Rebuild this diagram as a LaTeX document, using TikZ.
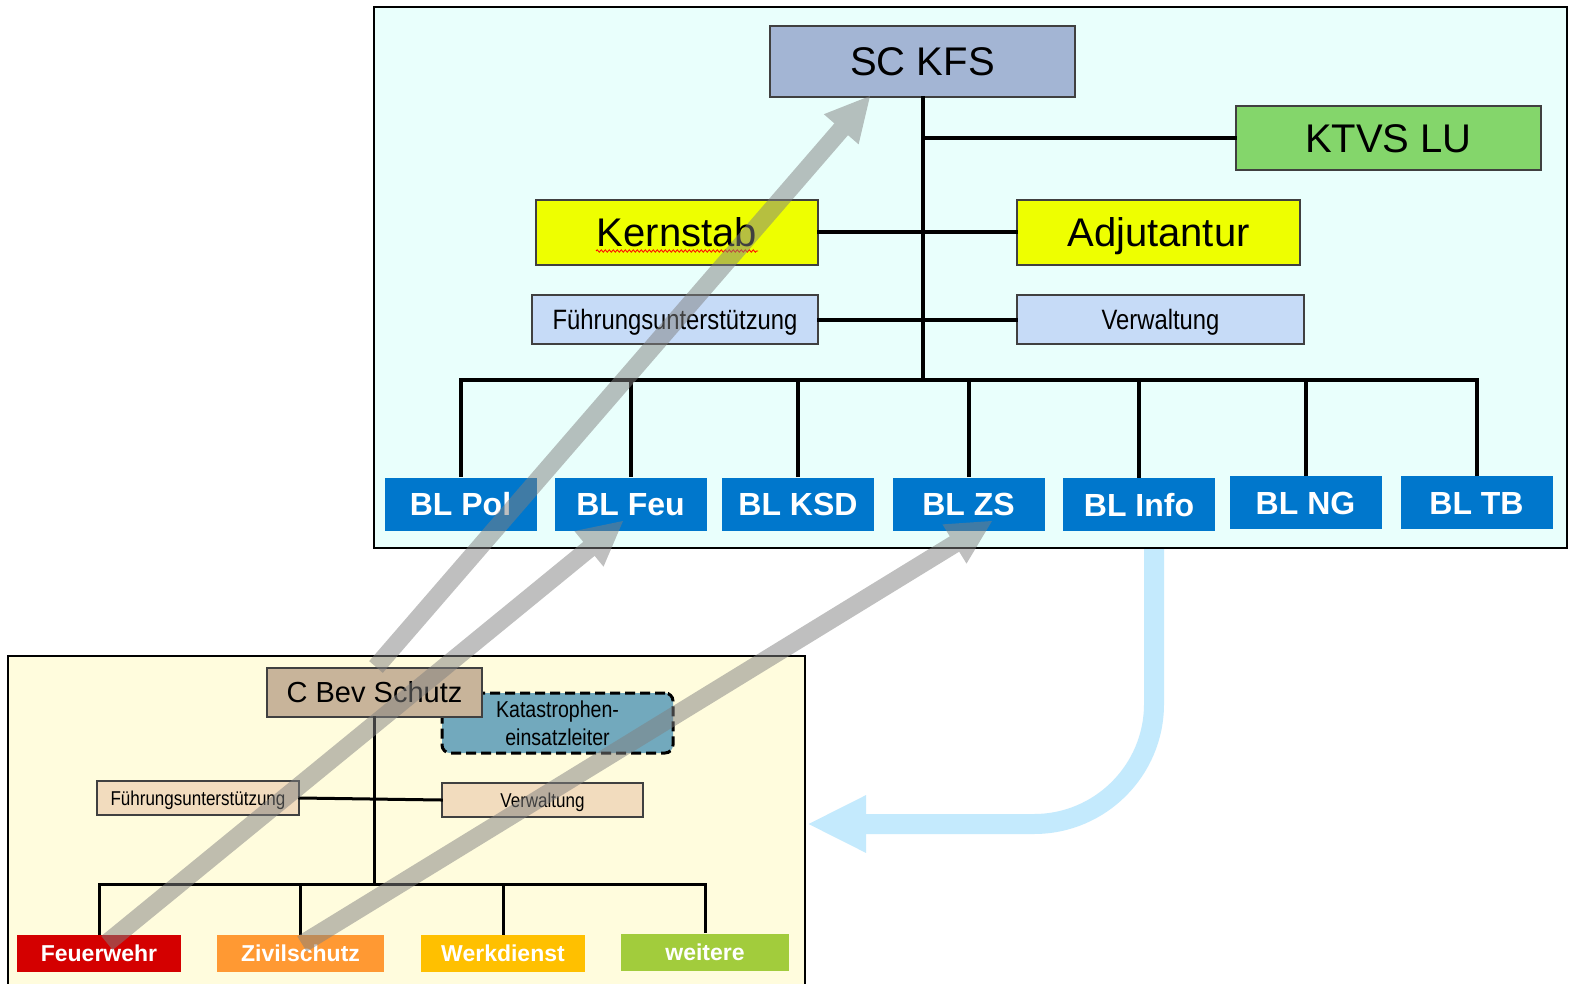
\documentclass[tikz,border=0pt]{standalone}
\usepackage{fontspec}
\setmainfont{Liberation Sans}
\newfontfamily\narrowfont[FakeStretch=0.85]{Liberation Sans}
\usetikzlibrary{calc,arrows.meta,decorations.pathmorphing}
\definecolor{toppanel}{HTML}{E9FFFC}
\definecolor{botpanel}{HTML}{FFFCDD}
\definecolor{sccol}{HTML}{A3B5D4}
\definecolor{ktvscol}{HTML}{84D66B}
\definecolor{yelcol}{HTML}{EEFF00}
\definecolor{ltblue}{HTML}{C6DBF7}
\definecolor{blbox}{HTML}{0077CC}
\definecolor{cbevcol}{HTML}{C8B49A}
\definecolor{katcol}{HTML}{72A9BD}
\definecolor{peach}{HTML}{F2DCBE}
\definecolor{feuercol}{HTML}{D40000}
\definecolor{zivcol}{HTML}{FF9933}
\definecolor{werkcol}{HTML}{FFC000}
\definecolor{weitcol}{HTML}{A2CC3C}
\definecolor{bluearrow}{HTML}{C4EAFD}
\definecolor{boxline}{HTML}{404040}
\newcommand\grayblockarrow[3]{%
  \coordinate (#3b) at ($(#2)!22pt!(#1)$);
  \fill[grayarrow] ($(#1)!4.5pt!90:(#2)$) -- ($(#3b)!4.5pt!90:(#2)$) -- ($(#3b)!11.5pt!90:(#2)$) -- (#2)
    -- ($(#3b)!11.5pt!-90:(#2)$) -- ($(#3b)!4.5pt!-90:(#2)$) -- ($(#1)!4.5pt!-90:(#2)$) -- cycle;}
\begin{document}
\begin{tikzpicture}[x=0.5pt,y=-0.5pt,
  box/.style={draw=boxline, line width=0.7pt, inner sep=0pt, align=center},
  big/.style={box, font=\fontsize{20}{24}\selectfont, text height=14.3pt, text depth=0pt},
  mid/.style={box, font=\narrowfont\fontsize{14}{17}\selectfont, text height=10pt, text depth=0pt},
  bl/.style={fill=blbox, draw=none, text=white, font=\bfseries\fontsize{16}{19}\selectfont,
    minimum width=76pt, minimum height=26.5pt, inner sep=0pt, text height=11.5pt, text depth=0pt},
  cbevstyle/.style={box, font=\fontsize{14.5}{17}\selectfont, text height=10.4pt, text depth=0pt},
  katstyle/.style={draw=black, line width=1.5pt, dash pattern=on 5pt off 2.5pt, rounded corners=4pt,
    fill=katcol, inner sep=0pt, align=center, font=\narrowfont\fontsize{11.5}{14}\selectfont},
  small/.style={box, font=\narrowfont\fontsize{10}{12}\selectfont, text height=7.2pt, text depth=0pt, fill=peach,
    minimum height=17pt},
  unit/.style={draw=none, inner sep=0pt, text=white, font=\bfseries\fontsize{11.5}{14}\selectfont,
    minimum height=18.5pt, text height=8.2pt, text depth=0pt},
  conn/.style={line width=2pt, line cap=rect},
  conns/.style={line width=1.5pt, line cap=rect},
  grayarrow/.style={fill=gray, fill opacity=0.5}]
\useasboundingbox (0,0) rectangle (1573,984);
\fill[white] (0,0) rectangle (1573,984);
% blue return arrow
\draw[bluearrow, line width=10pt, rounded corners=60pt, -{Triangle[length=29.5pt,width=26.5pt]}]
  (1154,549) |- (807,824);
% top panel
\filldraw[fill=toppanel, draw=black, line width=1pt] (374,7) rectangle (1567,548);
\node[big, fill=sccol, minimum width=152.5pt, minimum height=35.5pt] (sckfs) at (922.5,61.5) {SC KFS};
\node[big, fill=ktvscol, minimum width=152.5pt, minimum height=32pt] (ktvs) at (1388.5,138) {KTVS LU};
\node[big, fill=yelcol, minimum width=141pt, minimum height=32.5pt] (kern) at (677,232.5) {Kernstab};
\node[big, fill=yelcol, minimum width=141.5pt, minimum height=32.5pt] (adj) at (1158.5,232.5) {Adjutantur};
\node[mid, fill=ltblue, minimum width=143pt, minimum height=24.5pt] (fu) at (675,319.5) {Führungsunterstützung};
\node[mid, fill=ltblue, minimum width=143.5pt, minimum height=24.5pt] (verw) at (1160.5,319.5) {Verwaltung};
\draw[red, line width=0.4pt, decorate, decoration={snake, amplitude=0.6pt, segment length=2pt}] (596,251) -- (758,251);
\node[bl] (blpol) at (460.5,504) {BL Pol};
\node[bl] (blfeu) at (630.5,504) {BL Feu};
\node[bl] (blksd) at (798,504) {BL KSD};
\node[bl] (blzs) at (968.5,504) {BL ZS};
\node[bl] (blinfo) at (1139,504.5) {BL Info};
\node[bl] (blng) at (1305.5,502.5) {BL NG};
\node[bl] (bltb) at (1476.5,502.5) {BL TB};
\coordinate (bus) at (923,380);
\draw[conn] (sckfs.south) -- (sckfs.south |- bus);
\draw[conn] (ktvs.west) -- (ktvs.west -| sckfs.south);
\draw[conn] (kern.east) -- (adj.west);
\draw[conn] (fu.east) -- (verw.west);
\draw[conn] (blpol.north |- bus) -- (bltb.north |- bus);
\foreach \n in {blpol,blfeu,blksd,blzs,blinfo,blng,bltb}
  \draw[conn, line cap=butt] (\n.north) -- (\n.north |- bus);
% bottom panel
\filldraw[fill=botpanel, draw=black, line width=1pt] (8,995) -- (8,656) -- (805,656) -- (805,995);
\node[katstyle, minimum width=115.5pt, minimum height=30pt] (kat) at (557.5,723) {Katastrophen-\\einsatzleiter};
\node[cbevstyle, fill=cbevcol, minimum width=107.5pt, minimum height=24.5pt] (cbev) at (374.5,692.5) {C Bev Schutz};
\node[small, minimum width=101pt] (fus) at (198,798) {Führungsunterstützung};
\node[small, minimum width=100.5pt] (verws) at (542.5,800) {Verwaltung};
\node[unit, fill=feuercol, minimum width=82pt] (feuer) at (99,953.5) {Feuerwehr};
\node[unit, fill=zivcol, minimum width=83.5pt] (ziv) at (300.5,953.5) {Zivilschutz};
\node[unit, fill=werkcol, minimum width=82pt] (werk) at (503,953.5) {Werkdienst};
\node[unit, fill=weitcol, minimum width=84pt] (weit) at (705,952) {weitere};
\coordinate (bbus) at (375,884);
\draw[conns] (cbev.south) -- (cbev.south |- bbus);
\draw[conns] (fus.east) -- (verws.west);
\draw[conns] (feuer.north |- bbus) -- (weit.north |- bbus);
\foreach \n in {feuer,ziv,werk,weit}
  \draw[conns, line cap=butt] (\n.north) -- (\n.north |- bbus);
% gray overlay arrows
\coordinate (aTail) at (376,667);
\coordinate (aTip) at (870,96);
\coordinate (bTail) at (107,943);
\coordinate (bTip) at (623,521);
\coordinate (cTail) at (302,944);
\coordinate (cTip) at (992,521);
\grayblockarrow{aTail}{aTip}{aa}
\grayblockarrow{bTail}{bTip}{bb}
\grayblockarrow{cTail}{cTip}{cc}
\end{tikzpicture}
\end{document}
